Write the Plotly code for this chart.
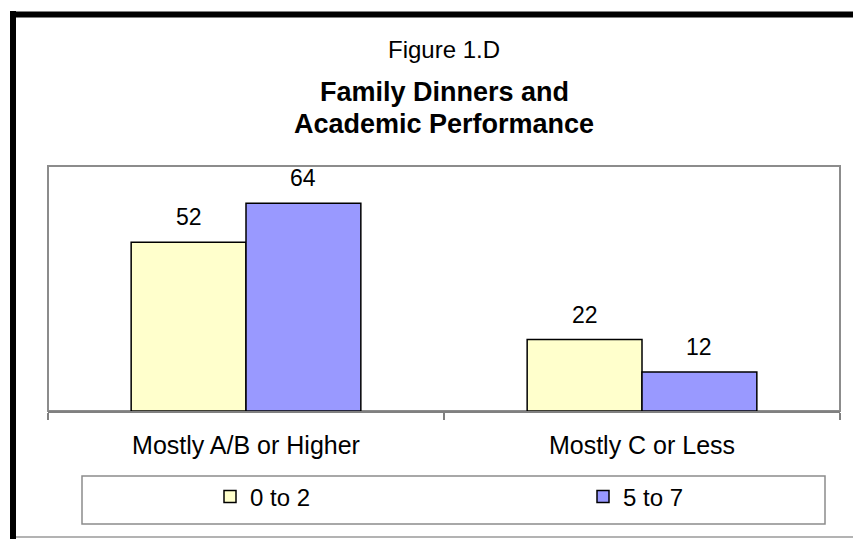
import plotly.graph_objects as go

categories = ["Mostly A/B or Higher", "Mostly C or Less"]
series_names = ["0 to 2", "5 to 7"]
values_0_to_2 = [52, 22]
values_5_to_7 = [64, 12]
colors = ["#FFFFCC", "#9999FF"]

W, H = 861, 539
OFF = 8  # page body margin offset
ML, MR, MT, MB = 48 - OFF, W - (840 - OFF), 166 - OFF, H - (411 - OFF)
PW = W - ML - MR
PH = H - MT - MB
BARGAP = 0.42
FONT = "Liberation Sans, Arial, sans-serif"


def px_x(px):
    # px given in page coordinates of the reference
    return (px - OFF - ML) / PW


def px_y(py):
    return (H - MB - (py - OFF)) / PH


fig = go.Figure()
legends = ["legend", "legend2"]
for name, vals, col, lg in zip(series_names, [values_0_to_2, values_5_to_7], colors, legends):
    fig.add_trace(go.Bar(
        x=categories, y=vals, name=name, legend=lg,
        marker=dict(color=col, line=dict(color="black", width=1.5)),
    ))

# data labels above bars
cat_px = PW / len(categories)
bar_px = cat_px * (1 - BARGAP) / len(series_names)
for si, vals in enumerate([values_0_to_2, values_5_to_7]):
    shift = (si - (len(series_names) - 1) / 2) * bar_px
    for c, v in zip(categories, vals):
        fig.add_annotation(x=c, y=v, text=str(v), showarrow=False,
                           xref="x", yref="y", xshift=shift, yshift=10,
                           yanchor="bottom", font=dict(size=23, color="black", family=FONT))

# titles
fig.add_annotation(x=0.5, y=px_y(49), xref="paper", yref="paper", text="Figure 1.D",
                   showarrow=False, yanchor="middle",
                   font=dict(size=24, color="black", family=FONT))
fig.add_annotation(x=0.5, y=px_y(92), xref="paper", yref="paper", text="<b>Family Dinners and</b>",
                   showarrow=False, yanchor="middle",
                   font=dict(size=27, color="black", family=FONT))
fig.add_annotation(x=0.5, y=px_y(124), xref="paper", yref="paper", text="<b>Academic Performance</b>",
                   showarrow=False, yanchor="middle",
                   font=dict(size=27, color="black", family=FONT))

shapes = [
    # plot area border
    dict(type="rect", xref="paper", yref="paper", x0=0, x1=1, y0=0, y1=1,
         line=dict(color="#8c8c8c", width=2), layer="below"),
    # legend box
    dict(type="rect", xref="paper", yref="paper", x0=px_x(82), x1=px_x(825),
         y0=px_y(524), y1=px_y(476), line=dict(color="#8c8c8c", width=1.5),
         fillcolor="white", layer="below"),
    # outer frame
    dict(type="line", xref="paper", yref="paper", x0=px_x(13), x1=px_x(13),
         y0=px_y(11), y1=px_y(545), line=dict(color="black", width=6)),
    dict(type="line", xref="paper", yref="paper", x0=px_x(10), x1=px_x(875),
         y0=px_y(14.5), y1=px_y(14.5), line=dict(color="black", width=6)),
    dict(type="line", xref="paper", yref="paper", x0=px_x(16), x1=px_x(875),
         y0=px_y(537), y1=px_y(537), line=dict(color="#9a9a9a", width=1.5)),
]

leg_common = dict(orientation="h", xanchor="left", yanchor="middle",
                  bgcolor="rgba(0,0,0,0)", borderwidth=0,
                  font=dict(size=24, family=FONT, color="black"))

fig.update_layout(
    width=W, height=H,
    margin=dict(l=ML, r=MR, t=MT, b=MB),
    paper_bgcolor="white", plot_bgcolor="white",
    barmode="group", bargap=BARGAP, bargroupgap=0,
    font=dict(family=FONT, size=24, color="black"),
    showlegend=True,
    legend=dict(x=px_x(210), y=px_y(497), **leg_common),
    legend2=dict(x=px_x(583), y=px_y(497), **leg_common),
    shapes=shapes,
)
fig.update_xaxes(showline=True, linecolor="#808080", linewidth=2,
                 ticks="outside", tickson="boundaries", ticklen=7,
                 tickcolor="#808080", tickwidth=1.5,
                 tickfont=dict(size=25, family=FONT, color="black"),
                 ticklabelstandoff=11, range=[-0.5, 1.5])
fig.update_yaxes(range=[0, 75.5], showticklabels=False, showgrid=False,
                 zeroline=False, showline=False)

fig.write_html("out.html")
